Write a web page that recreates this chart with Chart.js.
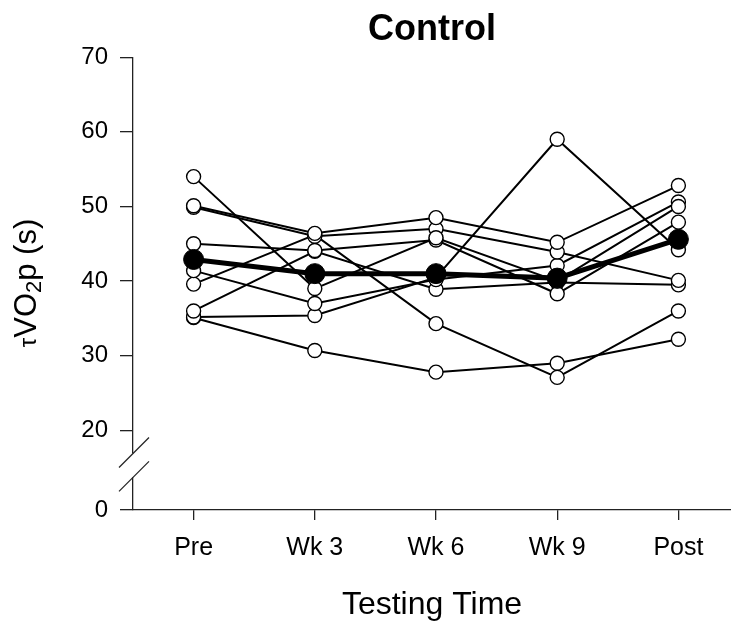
<!DOCTYPE html>
<html>
<head>
<meta charset="utf-8">
<script src="https://cdn.jsdelivr.net/npm/chart.js@4/dist/chart.umd.min.js"></script>
<style>
  html, body { margin: 0; padding: 0; background: #fff; }
</style>
</head>
<body>
<canvas id="chart" width="731" height="623"></canvas>
<script>
// categories and tick labels
const categories = ['Pre', 'Wk 3', 'Wk 6', 'Wk 9', 'Post'];
const yTicks = [0, 20, 30, 40, 50, 60, 70];

// individual subjects (tauVO2p, s)
const subject1 = [54.0, 39.0, 45.8, 40.0, 50.0];
const subject2 = [50.1, 46.4, 48.5, 45.2, 52.8];
const subject3 = [49.9, 46.0, 47.0, 43.9, 40.1];
const subject4 = [45.0, 44.1, 45.5, 38.3, 47.9];
const subject5 = [41.4, 37.0, 40.2, 42.1, 50.6];
const subject6 = [39.6, 46.2, 34.3, 27.1, 36.0];
const subject7 = [36.0, 44.0, 38.9, 39.8, 39.5];
const subject8 = [35.2, 35.4, 40.5, 59.0, 44.2];
const subject9 = [35.1, 30.7, 27.8, 29.0, 32.2];

// group mean
const meanVals = [42.9, 41.0, 41.0, 40.4, 45.6];

const subjects = [subject1, subject2, subject3, subject4, subject5,
                  subject6, subject7, subject8, subject9];

// the "0" tick sits below the axis break, 80px under 20
const axisBottom = 9.33;

const FONT = 'Liberation Sans';
Chart.defaults.font.family = FONT;
Chart.defaults.color = '#000';

function toPoints(vals) {
    return vals.map((v, i) => ({ x: i, y: v }));
}

const datasets = [{
    label: 'Mean',
    data: toPoints(meanVals),
    borderColor: '#000',
    borderWidth: 5,
    pointRadius: 10,
    pointBackgroundColor: '#000',
    pointBorderColor: '#000',
    pointBorderWidth: 1,
    order: 0
}];
subjects.forEach((s, i) => {
    datasets.push({
        label: 'Subject ' + (i + 1),
        data: toPoints(s),
        borderColor: '#000',
        borderWidth: 2,
        pointRadius: 7,
        pointBackgroundColor: '#fff',
        pointBorderColor: '#000',
        pointBorderWidth: 1.4,
        order: 1
    });
});

// axis break marks on the y axis
const yBreak = {
    id: 'yBreak',
    afterDraw(chart) {
        const { ctx, chartArea } = chart;
        const ys = chart.scales.y;
        const top = ys.getPixelForValue(20);
        const bot = ys.getPixelForValue(axisBottom);
        const x = chartArea.left;
        const y1 = top + (bot - top) * 0.29;
        const y2 = top + (bot - top) * 0.59;
        ctx.save();
        ctx.fillStyle = '#fff';
        ctx.fillRect(x - 2, y1, 4, y2 - y1);
        ctx.strokeStyle = '#222';
        ctx.lineWidth = 1.3;
        [y1, y2].forEach(yy => {
            ctx.beginPath();
            ctx.moveTo(x - 14, yy + 14);
            ctx.lineTo(x + 16, yy - 16);
            ctx.stroke();
        });
        ctx.restore();
    }
};

// rotated y title with subscript
const yTitle = {
    id: 'yTitle',
    afterDraw(chart) {
        const ctx = chart.ctx;
        const parts = [
            { t: '\u03C4', size: 24, dy: 2 },
            { t: 'VO', size: 31, dy: 0 },
            { t: '2', size: 22, dy: 8 },
            { t: 'p (s)', size: 31, dy: 0 }
        ];
        ctx.save();
        ctx.translate(27, 283);
        ctx.rotate(-Math.PI / 2);
        ctx.fillStyle = '#000';
        ctx.textBaseline = 'middle';
        ctx.textAlign = 'left';
        let total = 0;
        parts.forEach(p => {
            ctx.font = p.size + 'px ' + FONT;
            p.w = ctx.measureText(p.t).width;
            total += p.w;
        });
        let cx = -total / 2;
        parts.forEach(p => {
            ctx.font = p.size + 'px ' + FONT;
            ctx.fillText(p.t, cx, p.dy);
            cx += p.w;
        });
        ctx.restore();
    }
};

new Chart(document.getElementById('chart'), {
    type: 'line',
    data: { datasets: datasets },
    options: {
        responsive: false,
        animation: false,
        devicePixelRatio: 1,
        layout: { autoPadding: false, padding: { left: 0, right: 0, top: 0, bottom: 0 } },
        plugins: {
            legend: { display: false },
            tooltip: { enabled: false },
            title: {
                display: true,
                fullSize: false,
                text: 'Control',
                font: { size: 36, weight: 'bold', lineHeight: 1.2 },
                color: '#000',
                padding: { top: 8, bottom: 6 }
            }
        },
        scales: {
            x: {
                type: 'linear',
                position: 'bottom',
                min: -0.5,
                max: 4.434,
                afterBuildTicks: s => { s.ticks = categories.map((_, i) => ({ value: i })); },
                afterFit: s => { s.height = 113; },
                ticks: {
                    callback: v => categories[v],
                    font: { size: 25 },
                    color: '#000',
                    padding: 13,
                    maxRotation: 0,
                    autoSkip: false
                },
                grid: {
                    drawOnChartArea: false,
                    drawTicks: true,
                    tickLength: 10,
                    color: '#222',
                    lineWidth: 1.3
                },
                border: { display: true, color: '#222', width: 1.3 },
                title: {
                    display: true,
                    text: 'Testing Time',
                    font: { size: 32, lineHeight: 1 },
                    color: '#000',
                    padding: { top: 0, bottom: 2 }
                }
            },
            y: {
                type: 'linear',
                min: axisBottom,
                max: 70,
                afterBuildTicks: s => { s.ticks = yTicks.map(v => ({ value: v === 0 ? axisBottom : v })); },
                afterFit: s => { s.width = 133; },
                ticks: {
                    callback: v => (v < 20 ? '0' : String(v)),
                    font: { size: 24 },
                    color: '#000',
                    padding: 12
                },
                grid: {
                    drawOnChartArea: false,
                    drawTicks: true,
                    tickLength: 13,
                    color: '#222',
                    lineWidth: 1.3
                },
                border: { display: true, color: '#222', width: 1.3 }
            }
        }
    },
    plugins: [yBreak, yTitle]
});
</script>
</body>
</html>
